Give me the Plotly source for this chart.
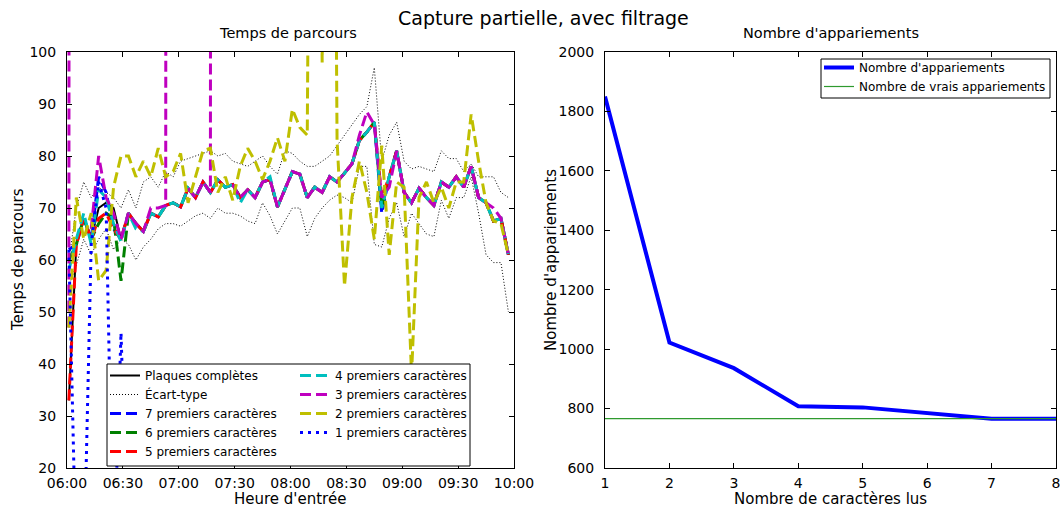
import plotly.graph_objects as go

# ---------------- data ----------------
times = ["06:01", "06:05", "06:09", "06:13", "06:17", "06:21", "06:25", "06:29", "06:33", "06:37",
         "06:41", "06:45", "06:49", "06:53", "06:57", "07:01", "07:05", "07:09", "07:13", "07:17",
         "07:21", "07:25", "07:29", "07:33", "07:37", "07:41", "07:45", "07:49", "07:53", "07:57",
         "08:01", "08:05", "08:09", "08:13", "08:17", "08:21", "08:25", "08:29", "08:33", "08:37",
         "08:41", "08:45", "08:49", "08:53", "08:57", "09:01", "09:05", "09:09", "09:13", "09:17",
         "09:21", "09:25", "09:29", "09:33", "09:37", "09:41", "09:45", "09:49", "09:53", "09:57"]

plaques = [33, 63, 68, 64, 70, 71, 70, 64, 69, 67,
           65.5, 69, 68.3, 70.5, 71, 70.2, 73.8, 72, 75, 73,
           75.4, 74, 74.5, 72, 73.5, 72, 75, 75.5, 70.2, 73.5,
           77, 76.5, 72, 74, 73, 76, 75, 76.7, 78.5, 83,
           84.6, 86.5, 70, 76, 81, 73, 71, 73.8, 72, 70.5,
           75, 74, 76, 74, 78, 72, 71, 67.5, 68, 61]

ecart_haut = [60, 70, 75, 72, 74, 73, 72, 70, 73.5, 70,
              75, 76, 74, 77, 76, 79, 79.5, 80, 80.5, 81,
              80, 80.5, 79, 78.5, 78, 79, 80, 78, 76.5, 81,
              80.5, 79, 78, 78, 79, 80, 82, 84, 86, 88,
              89.5, 97, 79, 84, 86.5, 79, 77.5, 78, 77.5, 77,
              81, 79.5, 79.5, 77, 78.5, 76, 76, 76, 73, 72]

ecart_bas = [55, 59, 64, 61, 64, 66, 62, 64, 63, 60,
             62.5, 64, 66, 67, 67, 66.5, 67.5, 68.5, 69, 68,
             70, 69, 69, 68.5, 67.5, 67, 71, 68.5, 65, 67.5,
             70, 70, 64.5, 68, 70, 71.5, 72.5, 72, 71, 78,
             78, 63, 62.5, 68, 71, 64.5, 69, 67, 65, 64.5,
             71.5, 68, 72, 72, 76, 69, 61, 59.5, 59.5, 50]

car7 = [62, 63, 68, 64, 76, 73, 66, 64, 69, 67,
        65.5, 69, 68.3, 70.5, 71, 70.2, 73.8, 72, 75, 73,
        75.4, 74, 74.5, 72, 73.5, 72, 75, 75.5, 70.2, 73.5,
        77, 76.5, 72, 74, 73, 76, 75, 76.7, 78.5, 83,
        84.6, 86.5, 69, 76, 81, 73, 71, 73.8, 72, 70.5,
        75, 74, 76, 74, 78, 72, 71, 67.5, 68, 61]

car6 = [60, 63, 68, 64, 67, 69, 68, 56, 69, 67,
        65.5, 69, 68.3, 70.5, 71, 70.2, 73.8, 72, 75, 73,
        75.4, 74, 74.5, 72, 73.5, 72, 75, 75.5, 70.2, 73.5,
        77, 76.5, 72, 74, 73, 76, 75, 76.7, 78.5, 83,
        84.6, 86.5, 70, 76, 81, 73, 71, 73.8, 72, 70.5,
        75, 74, 76, 74, 78, 72, 71, 67.5, 68, 61]

car5 = [33, 63, 68, 64, 68, 69, 66, 64, 69, 67,
        65.5, 69, 68.3, 70.5, 71, 70.2, 73.8, 72, 75, 73,
        75.4, 74, 74.5, 72, 73.5, 72, 75, 75.5, 70.2, 73.5,
        77, 76.5, 72, 74, 73, 76, 75, 76.7, 78.5, 83,
        84.6, 86.5, 72, 76, 81, 73, 71, 73.8, 72, 70.5,
        75, 74, 76, 74, 78, 72, 71, 67.5, 68, 61]

car4 = [58, 64, 69, 63, 73.5, 72, 67, 63.5, 69, 66,
        65.5, 69, 68.3, 70.5, 71, 70.2, 73.8, 72, 75, 73,
        75.4, 74, 74.5, 71, 73.5, 72, 75, 76, 70.2, 73.5,
        77, 76.5, 72, 74, 73, 76, 75, 76.7, 78.5, 83,
        84.6, 86.5, 70, 76, 81, 73, 71, 73.8, 72, 70.5,
        75, 74, 76, 74, 78, 72, 71, 67.5, 68, 61]

car3 = [47, 3000, None, 66, 80, 72, 69, 64, 69, 67,
        65.5, 70, 70, 70.5, 3000, None, 73.8, 72, 75, 73,
        3000, None, 74.5, 72, 73.5, 72, 75, 75.5, 70.2, 73.5,
        77, 76.5, 72, 74, 73, 76, 75, 76.7, 78.5, 84,
        88.5, 86, 72, 74, 81, 73, 71, 73.8, 72, 70.5,
        75, 74, 76, 74, 78, 72, 71, 70, 68, 61]

car2 = [47, 72, 64, 69, 56, 58, 74, 80, 80, 76,
        79, 76, 81.5, 76, 77, 80.5, 71, 76, 81, 81.5,
        73, 76, 71.5, 78, 81.5, 79, 75.5, 79, 83.5, 79,
        89, 85.5, 84, 300, 98, 300, 83, 55, 72, 79,
        73, 64, 82, 61, 75, 74, 38, 72, 75, 71,
        74, 70, 75, 75, 88, 79, 71, 67.5, 67, 61]

car1_times = ["06:01", "06:05", "06:09", "06:13", "06:17", "06:21", "06:25", "06:29", "06:33"]
car1 = [62, 0, 0, 63, 75, 70, 0, 46, 0]

nb_caracteres = [1, 2, 3, 4, 5, 6, 7, 8]
nb_appariements = [1850, 1022, 936, 808, 804, 784, 766, 766]
nb_vrais = [766, 766, 766, 766, 766, 766, 766, 766]

# ---------------- figure ----------------
W, H = 1060, 508
FONT = "DejaVu Sans"


def dt(ts):
    return ["2015-06-01 " + t + ":00" for t in ts]


def px(x):
    return x / W


def py(y):
    return 1 - y / H


fig = go.Figure()

DASH = "11px,5px"
fig.add_trace(go.Scatter(x=dt(times), y=plaques, mode="lines", name="Plaques complètes",
                         line=dict(color="black", width=2), legend="legend"))
fig.add_trace(go.Scatter(x=dt(times), y=ecart_haut, mode="lines", name="Écart-type",
                         legendgroup="ecart", line=dict(color="black", width=1, dash="1px,2px"),
                         legend="legend"))
fig.add_trace(go.Scatter(x=dt(times), y=ecart_bas, mode="lines", name="Écart-type",
                         legendgroup="ecart", showlegend=False,
                         line=dict(color="black", width=1, dash="1px,2px"), legend="legend"))

series = [
    ("7 premiers caractères", car7, "#0000FF", DASH, "legend"),
    ("6 premiers caractères", car6, "#008000", DASH, "legend"),
    ("5 premiers caractères", car5, "#FF0000", DASH, "legend"),
    ("4 premiers caractères", car4, "#00BFBF", DASH, "legend2"),
    ("3 premiers caractères", car3, "#BF00BF", DASH, "legend2"),
    ("2 premiers caractères", car2, "#BFBF00", DASH, "legend2"),
]
for name, vals, col, dash, leg in series:
    fig.add_trace(go.Scatter(x=dt(times), y=vals, mode="lines", name=name,
                             line=dict(color=col, width=3, dash=dash), legend=leg))
fig.add_trace(go.Scatter(x=dt(car1_times), y=car1, mode="lines", name="1 premiers caractères",
                         line=dict(color="#0000FF", width=3, dash="3px,5px"), legend="legend2"))

fig.add_trace(go.Scatter(x=nb_caracteres, y=nb_appariements, mode="lines",
                         name="Nombre d'appariements", line=dict(color="#0000FF", width=4),
                         xaxis="x2", yaxis="y2", legend="legend3"))
fig.add_trace(go.Scatter(x=nb_caracteres, y=nb_vrais, mode="lines",
                         name="Nombre de vrais appariements", line=dict(color="#2e9a2e", width=1.2),
                         xaxis="x2", yaxis="y2", legend="legend3"))

axis_style = dict(showline=True, linecolor="black", linewidth=1, mirror="ticks",
                  ticks="inside", ticklen=5, tickwidth=1, tickcolor="black",
                  showgrid=False, zeroline=False, automargin=False,
                  ticklabeloverflow="allow",
                  tickfont=dict(family=FONT, size=14, color="black"))

ydom = [py(468), py(52)]
LEGFONT = dict(family=FONT, size=12, color="black")
fig.update_layout(
    width=W, height=H,
    margin=dict(l=0, r=0, t=0, b=0),
    paper_bgcolor="white", plot_bgcolor="white",
    font=dict(family=FONT, color="black"),
    xaxis=dict(domain=[px(67), px(514)], type="date",
               range=["2015-06-01 06:00:00", "2015-06-01 10:00:00"],
               tick0="2015-06-01 06:00:00", dtick=30 * 60 * 1000, tickformat="%H:%M",
               anchor="y", ticklabelstandoff=2, **axis_style),
    yaxis=dict(domain=ydom, range=[20, 100], dtick=10, anchor="x",
               ticklabelstandoff=7, **axis_style),
    xaxis2=dict(domain=[px(605), px(1056)], range=[1, 8], dtick=1, anchor="y2",
                ticklabelstandoff=2, **axis_style),
    yaxis2=dict(domain=ydom, range=[600, 2000], dtick=200, anchor="x2",
                ticklabelstandoff=7, **axis_style),
    legend=dict(x=px(105), y=py(361), xanchor="left", yanchor="top",
                bgcolor="rgba(0,0,0,0)", borderwidth=0, font=LEGFONT, tracegroupgap=0),
    legend2=dict(x=px(295), y=py(361), xanchor="left", yanchor="top",
                 bgcolor="rgba(0,0,0,0)", borderwidth=0, font=LEGFONT, tracegroupgap=0),
    legend3=dict(x=px(819), y=py(53), xanchor="left", yanchor="top",
                 bgcolor="rgba(0,0,0,0)", borderwidth=0,
                 font=LEGFONT, tracegroupgap=0),
    showlegend=True,
)

fig.add_shape(type="rect", xref="paper", yref="paper",
              x0=px(107), x1=px(470), y0=py(466), y1=py(364),
              line=dict(color="black", width=1), fillcolor="white", layer="above")
fig.add_shape(type="rect", xref="paper", yref="paper",
              x0=px(821), x1=px(1050), y0=py(98), y1=py(59),
              line=dict(color="black", width=1), fillcolor="white", layer="above")

ann = [
    ("Capture partielle, avec filtrage", 543, 18, 19, 0),
    ("Temps de parcours", 288, 33, 14.5, 0),
    ("Nombre d'appariements", 831, 33, 14.5, 0),
    ("Heure d'entrée", 290, 499, 15, 0),
    ("Nombre de caractères lus", 830, 499, 15, 0),
    ("Temps de parcours", 18, 260, 15, -90),
    ("Nombre d'appariements", 551, 260, 15, -90),
]
for text, x, y, size, ang in ann:
    fig.add_annotation(text=text, x=px(x), y=py(y), xref="paper", yref="paper",
                       xanchor="center", yanchor="middle", showarrow=False, textangle=ang,
                       font=dict(family=FONT, size=size, color="black"))

fig.write_html("out.html")
